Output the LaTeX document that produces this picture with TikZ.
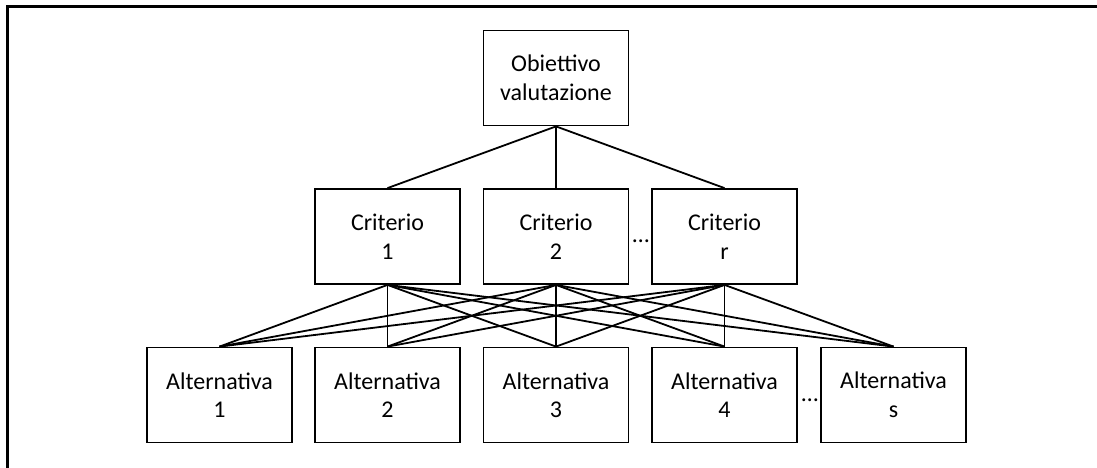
\documentclass[tikz,border=0pt]{standalone}
\usepackage{fontspec}
\setmainfont{Carlito}
\tikzset{
  box/.style = {
    draw,
    line width=1.8pt,
    minimum width=145pt,
    minimum height=95pt,
    inner sep=0pt,
    align=center,
    font=\fontsize{24}{28.5}\selectfont
  },
  link/.style = {line width=1.8pt},
  gap/.style = {anchor=base, inner sep=0pt, font=\fontsize{24}{28.5}\selectfont}
}

\begin{document}
\begin{tikzpicture}[x=1pt,y=-1pt]
  \useasboundingbox (0,0) rectangle (1097,468);
  \draw[line width=3pt] (7,468) -- (7,7) -- (1097,7);
  %
  \node[box] (obj) at (556,78) {Obiettivo\\valutazione};
  %
  \node[box] (c1) at (387.5,236.5) {Criterio\\1};
  \node[box] (c2) at (556,236.5) {Criterio\\2};
  \node[box] (cr) at (724.5,236.5) {Criterio\\r};
  \node[gap] (dotsc) at (641,242) {\ldots};
  %
  \node[box] (a1) at (219.5,395) {Alternativa\\1};
  \node[box] (a2) at (387.5,395) {Alternativa\\2};
  \node[box] (a3) at (556,395) {Alternativa\\3};
  \node[box] (a4) at (724.5,395) {Alternativa\\4};
  \node[box] (as) at (893.5,395) {Alternativa\\s};
  \node[gap] (dotsa) at (810,401) {\ldots};
  %
  \foreach \c in {c1,c2,cr}
    \draw[link] (obj.south) -- (\c.north);
  \foreach \c in {c1,c2,cr}
    \foreach \a in {a1,a2,a3,a4,as}
      \draw[link] (\c.south) -- (\a.north);
\end{tikzpicture}
\end{document}
